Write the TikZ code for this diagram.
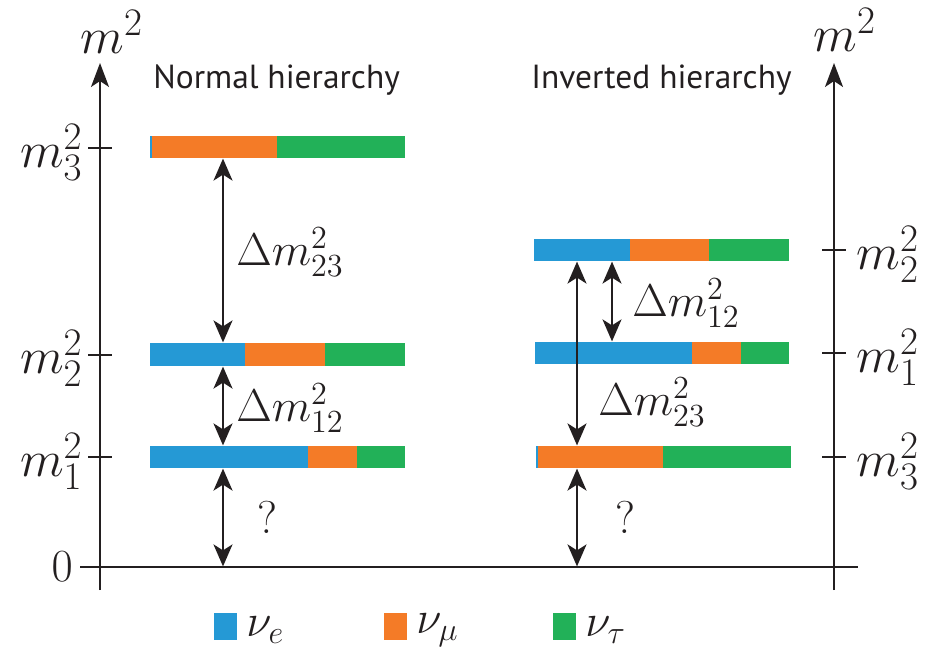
\documentclass[tikz,border=0pt]{standalone}
\usepackage{fix-cm}
\usepackage{fontspec}
\newfontfamily\hfont{PT Sans}
\usetikzlibrary{arrows.meta}
\DeclareMathSizes{25.5}{25.5}{19.5}{14}
\definecolor{ce}{RGB}{37,153,213}
\definecolor{cmu}{RGB}{244,123,39}
\definecolor{ctau}{RGB}{34,177,88}
\definecolor{ink}{RGB}{35,31,32}
\begin{document}
\begin{tikzpicture}[x=0.5pt,y=-0.5pt,
  axisline/.style={ink,line width=1pt},
  axarrow/.style={axisline,-{Stealth[length=12pt,width=9pt,inset=3pt]}},
  dbl/.style={ink,line width=1pt,{Stealth[length=11pt,width=9.5pt,inset=3pt]}-{Stealth[length=11pt,width=9.5pt,inset=3pt]},shorten <=0.3pt,shorten >=0.3pt},
  mlab/.style={ink,font=\fontsize{23}{27}\selectfont,inner sep=0pt},
  alab/.style={ink,font=\fontsize{25.5}{30}\selectfont,inner sep=0pt},
  hlab/.style={ink,font=\hfont\fontsize{16.7}{19}\selectfont,inner sep=0pt}
]
\useasboundingbox (0,0) rectangle (931,663);
% axes
\coordinate (la0) at (100,590); \coordinate (la1) at (100,63);
\coordinate (ra0) at (834,590); \coordinate (ra1) at (834,63);
\coordinate (b0) at (80,567); \coordinate (b1) at (858,567);
\draw[axarrow] (la0) -- (la1);
\draw[axarrow] (ra0) -- (ra1);
\draw[axisline] (b0) -- (b1);
% ticks
\draw[axisline] (88,148) -- (112,148);
\draw[axisline] (88,355) -- (112,355);
\draw[axisline] (88,457) -- (112,457);
\draw[axisline] (822,250) -- (846,250);
\draw[axisline] (822,353) -- (846,353);
\draw[axisline] (822,457) -- (846,457);
% axis labels
\node[alab,anchor=west] (lm) at (80,32) {$m^2$};
\node[alab,anchor=west] (rm) at (813,30) {$m^2$};
\node[alab,anchor=east] (l3) at (83,152) {$m_3^2$};
\node[alab,anchor=east] (l2) at (83,358) {$m_2^2$};
\node[alab,anchor=east] (l1) at (83,461) {$m_1^2$};
\node[mlab,anchor=east] (l0) at (73,567) {$0$};
\node[alab,anchor=west] (r2) at (856,254) {$m_2^2$};
\node[alab,anchor=west] (r1) at (856,357) {$m_1^2$};
\node[alab,anchor=west] (r3) at (856,461) {$m_3^2$};
% titles
\node[hlab,anchor=base west] (tn) at (153,89) {Normal hierarchy};
\node[hlab,anchor=base west] (ti) at (531,89) {Inverted hierarchy};
% normal bars
\fill[ce] (150,136) rectangle (152,158);
\fill[cmu] (152,136) rectangle (277,158);
\fill[ctau] (277,136) rectangle (405,158);
\fill[ce] (150,343) rectangle (245,366);
\fill[cmu] (245,343) rectangle (325,366);
\fill[ctau] (325,343) rectangle (405,366);
\fill[ce] (150,446) rectangle (308,468);
\fill[cmu] (308,446) rectangle (357,468);
\fill[ctau] (357,446) rectangle (405,468);
% inverted bars
\fill[ce] (534,239) rectangle (630,261);
\fill[cmu] (630,239) rectangle (709,261);
\fill[ctau] (709,239) rectangle (789,261);
\fill[ce] (535,342) rectangle (692,364);
\fill[cmu] (692,342) rectangle (741,364);
\fill[ctau] (741,342) rectangle (789,364);
\fill[ce] (536,446) rectangle (538,468);
\fill[cmu] (538,446) rectangle (663,468);
\fill[ctau] (663,446) rectangle (791,468);
% arrow end points
\coordinate (n3b) at (223,158);
\coordinate (n2t) at (223,343);
\coordinate (n2b) at (223,366);
\coordinate (n1t) at (223,446);
\coordinate (n1b) at (223,468);
\coordinate (n0) at (223,567);
\coordinate (i2bL) at (577,261);
\coordinate (i3t) at (577,446);
\coordinate (i2bR) at (612,261);
\coordinate (i1t) at (612,342);
\coordinate (i3b) at (577,468);
\coordinate (i0) at (577,567);
\draw[dbl] (n3b) -- (n2t);
\draw[dbl] (n2b) -- (n1t);
\draw[dbl] (n1b) -- (n0);
\draw[dbl] (i2bL) -- (i3t);
\draw[dbl] (i2bR) -- (i1t);
\draw[dbl] (i3b) -- (i0);
% arrow labels
\node[mlab] (d23n) at (290,252) {$\Delta m_{23}^2$};
\node[mlab] (d12n) at (290,408) {$\Delta m_{12}^2$};
\node[mlab] (qn) at (267,517) {?};
\node[mlab] (d12i) at (686,303) {$\Delta m_{12}^2$};
\node[mlab] (d23i) at (652,402) {$\Delta m_{23}^2$};
\node[mlab] (qi) at (625,517) {?};
% legend
\fill[ce] (214,613) rectangle (237,640);
\fill[cmu] (384,613) rectangle (407,640);
\fill[ctau] (553,613) rectangle (576,640);
\node[mlab,anchor=west] (le) at (246,630) {$\nu_e$};
\node[mlab,anchor=west] (lmu) at (416,630) {$\nu_\mu$};
\node[mlab,anchor=west] (ltau) at (585,630) {$\nu_\tau$};
\end{tikzpicture}
\end{document}
